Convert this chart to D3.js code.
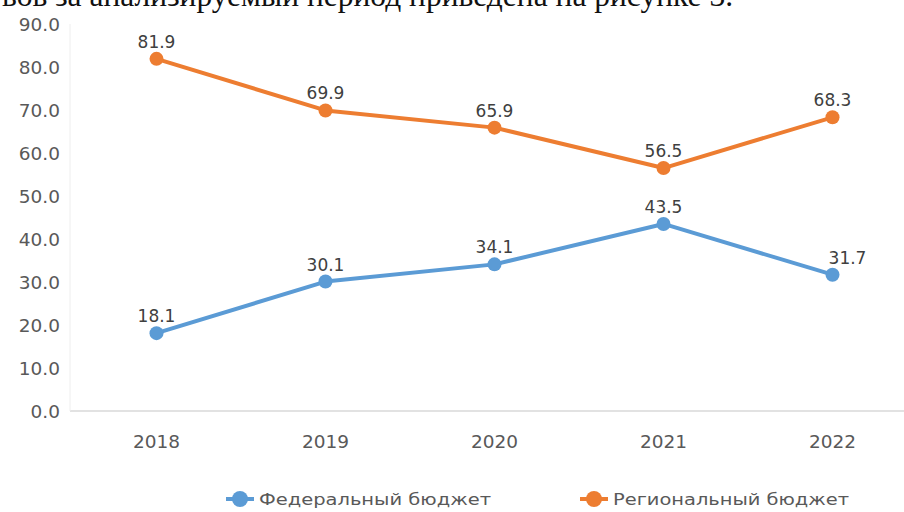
<!DOCTYPE html>
<html>
<head>
<meta charset="utf-8">
<script src="https://cdn.jsdelivr.net/npm/d3@7"></script>
<style>
  html, body { margin: 0; padding: 0; background: #fff; overflow: hidden; }
  svg { display: block; }
</style>
</head>
<body>
<svg id="chart" width="904" height="512"></svg>
<script>
var years = ["2018", "2019", "2020", "2021", "2022"];
var federal = [18.1, 30.1, 34.1, 43.5, 31.7];
var regional = [81.9, 69.9, 65.9, 56.5, 68.3];
var yTicks = [0, 10, 20, 30, 40, 50, 60, 70, 80, 90];
var seriesNames = ["Федеральный бюджет", "Региональный бюджет"];
var colors = ["#5b9bd5", "#ed7d31"];
var headerText = "вов за анализируемый период приведена на рисунке 3.";

var svg = d3.select("#chart");
var font = "'DejaVu Sans', Verdana, sans-serif";

// cut-off line of document text above the chart
svg.append("text")
  .attr("x", 2).attr("y", 6)
  .attr("font-family", "'Liberation Serif', serif")
  .attr("font-size", 31.5)
  .attr("fill", "#111")
  .text(headerText);

var x = d3.scaleBand().domain(years).range([72, 917]);
var y = d3.scaleLinear().domain([0, 90]).range([411, 24]);

// axes
svg.append("line")
  .attr("x1", 70).attr("x2", 904)
  .attr("y1", y(0)).attr("y2", y(0))
  .attr("stroke", "#d9d9d9").attr("stroke-width", 1.5);
svg.append("line")
  .attr("x1", 70).attr("x2", 70)
  .attr("y1", y(90)).attr("y2", y(0))
  .attr("stroke", "#eeeeee").attr("stroke-width", 1);

svg.append("g").selectAll("text").data(yTicks).join("text")
  .attr("x", 60).attr("y", function(d){ return y(d) + 7; })
  .attr("text-anchor", "end")
  .attr("font-family", font).attr("font-size", 18.5)
  .attr("fill", "#595959")
  .text(function(d){ return d.toFixed(1); });

svg.append("g").selectAll("text").data(years).join("text")
  .attr("x", function(d){ return x(d) + x.bandwidth()/2; })
  .attr("y", 448)
  .attr("text-anchor", "middle")
  .attr("font-family", font).attr("font-size", 18.5)
  .attr("fill", "#595959")
  .text(function(d){ return d; });

var line = d3.line()
  .x(function(d, i){ return x(years[i]) + x.bandwidth()/2; })
  .y(function(d){ return y(d); });

[federal, regional].forEach(function(vals, s){
  var g = svg.append("g");
  g.append("path").datum(vals)
    .attr("d", line)
    .attr("fill", "none")
    .attr("stroke", colors[s]).attr("stroke-width", 4)
    .attr("stroke-linejoin", "round");
  g.selectAll("circle").data(vals).join("circle")
    .attr("cx", function(d, i){ return x(years[i]) + x.bandwidth()/2; })
    .attr("cy", function(d){ return y(d); })
    .attr("r", 7)
    .attr("fill", colors[s]);
  g.selectAll("text").data(vals).join("text")
    .attr("x", function(d, i){ return x(years[i]) + x.bandwidth()/2 + (i == 4 && s == 0 ? 15 : 0); })
    .attr("y", function(d){ return y(d) - 11; })
    .attr("text-anchor", "middle")
    .attr("font-family", font).attr("font-size", 17)
    .attr("fill", "#404040")
    .text(function(d){ return d.toFixed(1); });
});

// legend (text is stretched wide in the reference)
var legendX = [226, 580];
var legendW = [232, 236];
seriesNames.forEach(function(name, s){
  var lg = svg.append("g").attr("transform", "translate(" + legendX[s] + ",499)");
  lg.append("line").attr("x1", 0).attr("x2", 28).attr("y1", 0).attr("y2", 0)
    .attr("stroke", colors[s]).attr("stroke-width", 4);
  lg.append("circle").attr("cx", 14).attr("cy", 0).attr("r", 8).attr("fill", colors[s]);
  lg.append("text").attr("x", 33).attr("y", 6)
    .attr("font-family", font).attr("font-size", 16)
    .attr("textLength", legendW[s]).attr("lengthAdjust", "spacingAndGlyphs")
    .attr("fill", "#595959")
    .text(name);
});
</script>
</body>
</html>
